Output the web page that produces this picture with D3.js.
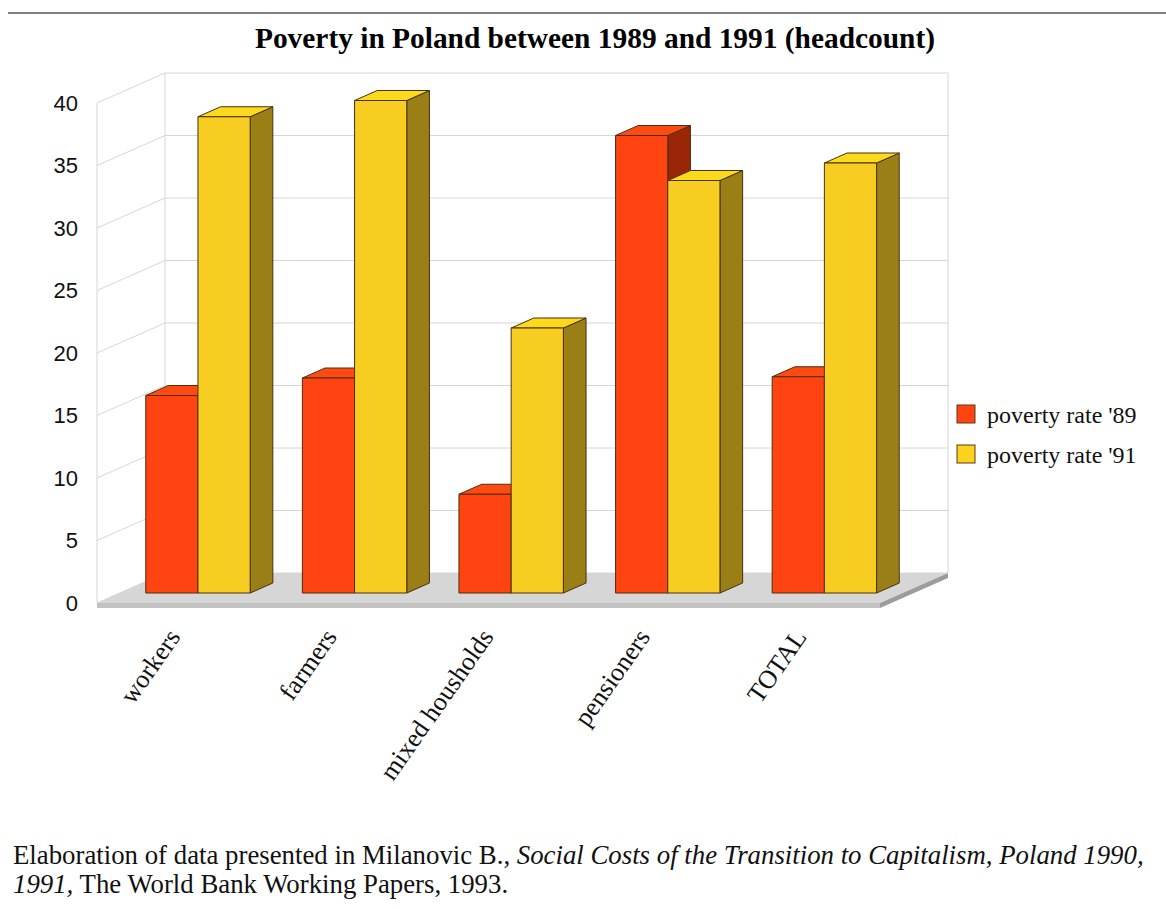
<!DOCTYPE html>
<html><head><meta charset="utf-8">
<script src="https://cdn.jsdelivr.net/npm/d3@7"></script>
<style>body{margin:0;background:#fff}svg{display:block}</style>
</head><body>
<svg id="c" width="1166" height="909"></svg>
<script>
const categories = ["workers", "farmers", "mixed housholds", "pensioners", "TOTAL"];
const seriesNames = ["poverty rate '89", "poverty rate '91"];
const rate89 = [15.8, 17.2, 7.9, 36.6, 17.3];
const rate91 = [38.1, 39.4, 21.2, 33.0, 34.4];
const yTicks = [0, 5, 10, 15, 20, 25, 30, 35, 40];
const titleText = "Poverty in Poland between 1989 and 1991 (headcount)";

const svg = d3.select("#c");
const X0 = 97, X1 = 880, Y0 = 603, DX = 68, DY = -30;
const y = d3.scaleLinear().domain([0, 40]).range([Y0, Y0 - 500]);
const x0 = d3.scaleBand().domain(categories).range([X0, X1]).padding(0);
const x1 = d3.scaleBand().domain(seriesNames).range([x0.bandwidth() / 6, x0.bandwidth() * 5 / 6]).padding(0);
const P = (px, v, z) => [px + DX * z, y(v) + DY * z];

const faces = [
  {front: "#ff4411", top: "#ff4a12", side: "#9a2608"},
  {front: "#f7cd22", top: "#fbd91c", side: "#9a7f17"}
];

// top rule
svg.append("line").attr("x1", 8).attr("x2", 1166).attr("y1", 13).attr("y2", 13)
  .attr("stroke", "#555").attr("stroke-width", 1.5);

// title
svg.append("text").attr("x", 595).attr("y", 48).attr("text-anchor", "middle")
  .attr("font-family", "Liberation Serif, Times New Roman, serif").attr("font-weight", "bold")
  .attr("font-size", 29.4).text(titleText);

const grid = svg.append("g").attr("stroke", "#d6d6d6").attr("stroke-width", 1).attr("fill", "none");
// back wall grid + left wall grid
yTicks.forEach(t => {
  const a = P(X0, t, 1), b = P(X1, t, 1);
  grid.append("line").attr("x1", a[0]).attr("y1", a[1]).attr("x2", b[0]).attr("y2", b[1]);
  const f = P(X0, t, 0);
  grid.append("line").attr("x1", f[0]).attr("y1", f[1]).attr("x2", a[0]).attr("y2", a[1]);
});
// wall verticals
[[P(X0, 0, 0), P(X0, 40, 0)], [P(X0, 0, 1), P(X0, 40, 1)], [P(X1, 0, 1), P(X1, 40, 1)]].forEach(([a, b]) => {
  grid.append("line").attr("x1", a[0]).attr("y1", a[1]).attr("x2", b[0]).attr("y2", b[1]);
});

// floor
const poly = pts => pts.map(p => p.join(",")).join(" ");
const fl = [P(X0, 0, 0), P(X1, 0, 0), P(X1, 0, 1), P(X0, 0, 1)];
svg.append("polygon").attr("points", poly(fl)).attr("fill", "#d6d6d6");
svg.append("polygon").attr("points", poly([fl[0], fl[1], [fl[1][0], fl[1][1] + 5], [fl[0][0], fl[0][1] + 5]])).attr("fill", "#c2c2c2");
svg.append("polygon").attr("points", poly([fl[1], fl[2], [fl[2][0], fl[2][1] + 5], [fl[1][0], fl[1][1] + 5]])).attr("fill", "#9c9c9c");

// y axis labels
const yAxis = d3.axisLeft(y).tickValues(yTicks).tickSize(0).tickPadding(0);
const ga = svg.append("g").attr("transform", "translate(78,0)").call(yAxis);
ga.select(".domain").remove();
ga.selectAll("text").attr("font-family", "Liberation Sans, Arial, sans-serif").attr("font-size", 22).attr("fill", "#111");

// bars
const zf = 1 / 3, zb = 2 / 3;
const bars = svg.append("g").attr("stroke", "#4a2f10").attr("stroke-width", 1).attr("stroke-linejoin", "round");
categories.forEach((c, i) => {
  [rate89[i], rate91[i]].forEach((v, s) => {
    const xl = x0(c) + x1(seriesNames[s]);
    const xr = xl + x1.bandwidth();
    const col = faces[s];
    const g = bars.append("g");
    g.append("polygon").attr("points", poly([P(xr, 0, zf), P(xr, 0, zb), P(xr, v, zb), P(xr, v, zf)])).attr("fill", col.side);
    g.append("polygon").attr("points", poly([P(xl, v, zf), P(xr, v, zf), P(xr, v, zb), P(xl, v, zb)])).attr("fill", col.top);
    g.append("polygon").attr("points", poly([P(xl, 0, zf), P(xr, 0, zf), P(xr, v, zf), P(xl, v, zf)])).attr("fill", col.front);
  });
});

// x labels
categories.forEach(c => {
  const cx = x0(c) + x0.bandwidth() / 2;
  svg.append("text").attr("transform", `translate(${cx + 6},637) rotate(-55)`)
    .attr("text-anchor", "end").attr("font-family", "Liberation Serif, Times New Roman, serif")
    .attr("font-size", 26).attr("fill", "#111").text(c);
});

// legend
seriesNames.forEach((n, s) => {
  const yy = 405 + s * 40;
  svg.append("rect").attr("x", 957).attr("y", yy).attr("width", 18).attr("height", 18)
    .attr("fill", s === 0 ? "#ff4411" : "#fcd21e").attr("stroke", "#5a3a1a").attr("stroke-width", 1);
  svg.append("text").attr("x", 987).attr("y", yy + 18).attr("font-family", "Liberation Serif, Times New Roman, serif")
    .attr("font-size", 24).attr("fill", "#111").text(n);
});

// footnote
const fn = svg.append("g").attr("font-family", "Liberation Serif, Times New Roman, serif").attr("font-size", 26.8).attr("fill", "#111");
const l1 = fn.append("text").attr("x", 13).attr("y", 864);
l1.append("tspan").text("Elaboration of data presented in Milanovic B., ");
l1.append("tspan").attr("font-style", "italic").text("Social Costs of the Transition to Capitalism, Poland 1990,");
const l2 = fn.append("text").attr("x", 13).attr("y", 893);
l2.append("tspan").attr("font-style", "italic").text("1991,");
l2.append("tspan").text(" The World Bank Working Papers, 1993.");
</script>
</body></html>
